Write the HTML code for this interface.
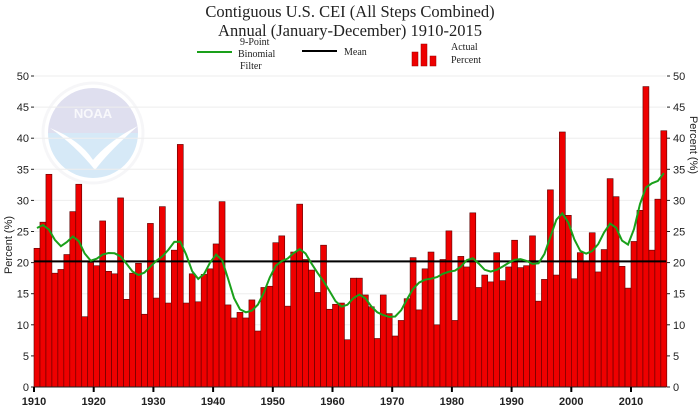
<!DOCTYPE html>
<html><head><meta charset="utf-8"><style>
body{margin:0;background:#fff;}
svg{display:block;}
text{font-family:"Liberation Sans",sans-serif;}
</style></head><body>
<svg id="s" width="700" height="420" xmlns="http://www.w3.org/2000/svg">
<rect width="700" height="420" fill="#fff"/>
<text x="350" y="17" text-anchor="middle" style="font-family:'Liberation Serif',serif" font-size="16.5" fill="#222">Contiguous U.S. CEI (All Steps Combined)</text>
<text x="350" y="36" text-anchor="middle" style="font-family:'Liberation Serif',serif" font-size="16.5" fill="#222">Annual (January-December) 1910-2015</text>
<g font-size="10" fill="#222">
<line x1="197" y1="52" x2="232" y2="52" stroke="#1aa01a" stroke-width="2"/>
<text x="240" y="45" style="font-family:'Liberation Serif',serif">9-Point</text>
<text x="238" y="57" style="font-family:'Liberation Serif',serif">Binomial</text>
<text x="240" y="69" style="font-family:'Liberation Serif',serif">Filter</text>
<line x1="302" y1="51" x2="337" y2="51" stroke="#000" stroke-width="2"/>
<text x="344" y="55" style="font-family:'Liberation Serif',serif">Mean</text>
<rect x="412" y="52" width="6" height="14" fill="#e00" stroke="#900" stroke-width=".5"/>
<rect x="421" y="44" width="6" height="22" fill="#e00" stroke="#900" stroke-width=".5"/>
<rect x="430" y="56" width="6" height="10" fill="#e00" stroke="#900" stroke-width=".5"/>
<text x="451" y="50" style="font-family:'Liberation Serif',serif">Actual</text>
<text x="451" y="63" style="font-family:'Liberation Serif',serif">Percent</text>
</g>
<g opacity="0.28">
<path d="M48,133 A45,45 0 0 1 138,133 Z" fill="#8e8fc8"/>
<path d="M48,133 A45,45 0 0 0 138,133 Z" fill="#6fb3e6"/>
<path d="M50,128 Q80,140 93,160 Q110,140 138,126 Q110,150 95,170 Q75,145 50,128Z" fill="#fff"/>
<circle cx="93" cy="133" r="50" fill="none" stroke="#aab" stroke-width="3" opacity=".35"/>
</g>
<text x="93" y="118" text-anchor="middle" font-size="13" font-weight="bold" fill="#fff" opacity=".8">NOAA</text>
<g id="g"></g>
</svg>
<script>
var v=[22.3,26.5,34.2,18.3,18.9,21.3,28.2,32.6,11.3,20,19.5,26.7,18.6,18.2,30.4,14.1,18.3,19.9,11.7,26.3,14.3,29,13.5,22,39,13.5,18.2,13.7,18.1,19,23,29.8,13.2,11.1,12,11.1,14,9,16,16.2,23.2,24.3,13,21.7,29.4,20.5,18.8,15.2,22.8,12.5,13.3,13.5,7.6,17.5,17.5,14.8,12.9,7.8,14.8,11.8,8.2,10.7,14.2,20.8,12.4,19,21.7,10,20.5,25.1,10.7,21,19.3,28,16,18,16.9,21.6,17.1,19.3,23.6,19.2,19.5,24.3,13.8,17.3,31.7,18,41,27.6,17.4,21.6,20.2,24.8,18.5,22.1,33.5,30.6,19.4,15.9,23.4,28.4,48.3,22,30.2,41.2];
var x0=34,dx=5.97,y0=387,sy=6.22,h='';
function Y(q){return y0-q*sy;}
for(var k=0;k<=50;k+=5){var y=Y(k);
 if(k>0)h+='<line x1="34" y1="'+y+'" x2="666" y2="'+y+'" stroke="#eee" stroke-width="1"/>';
 h+='<line x1="31" y1="'+y+'" x2="34" y2="'+y+'" stroke="#222"/><text x="29" y="'+(y+4)+'" text-anchor="end" font-size="11" fill="#222">'+k+'</text>';
 h+='<line x1="667" y1="'+y+'" x2="670" y2="'+y+'" stroke="#222"/><text x="673" y="'+(y+4)+'" font-size="11" fill="#222">'+k+'</text>';}
for(var i=0;i<v.length;i++){h+='<rect x="'+(x0+i*dx).toFixed(2)+'" y="'+Y(v[i]).toFixed(2)+'" width="'+dx.toFixed(2)+'" height="'+(v[i]*sy).toFixed(2)+'" fill="#ee0000" stroke="#5a0000" stroke-width="0.6"/>';}
h+='<line x1="34" y1="'+Y(20.2)+'" x2="666" y2="'+Y(20.2)+'" stroke="#000" stroke-width="2"/>';
var w=[1,8,28,56,70,56,28,8,1],p=[];
for(var i=0;i<v.length;i++){var s=0,t=0;for(var j=-4;j<=4;j++){var m=i+j;if(m>=0&&m<v.length){s+=w[j+4]*v[m];t+=w[j+4];}}p.push((x0+i*dx+dx/2).toFixed(1)+','+Y(s/t).toFixed(1));}
h+='<polyline points="'+p.join(' ')+'" fill="none" stroke="#1aa01a" stroke-width="2"/>';
h+='<line x1="34" y1="387" x2="666" y2="387" stroke="#222"/>';
for(var yr=1910;yr<=2010;yr+=10){var x=x0+(yr-1910)*dx;h+='<line x1="'+x+'" y1="387" x2="'+x+'" y2="392" stroke="#000" stroke-width="2"/><text x="'+x+'" y="405" text-anchor="middle" font-size="11" font-weight="bold" fill="#222">'+yr+'</text>';}
h+='<text transform="translate(12,245) rotate(-90)" text-anchor="middle" font-size="11" fill="#222">Percent (%)</text>';
h+='<text transform="translate(690,145) rotate(90)" text-anchor="middle" font-size="11" fill="#222">Percent (%)</text>';
document.getElementById('g').innerHTML=h;
</script>
</body></html>
